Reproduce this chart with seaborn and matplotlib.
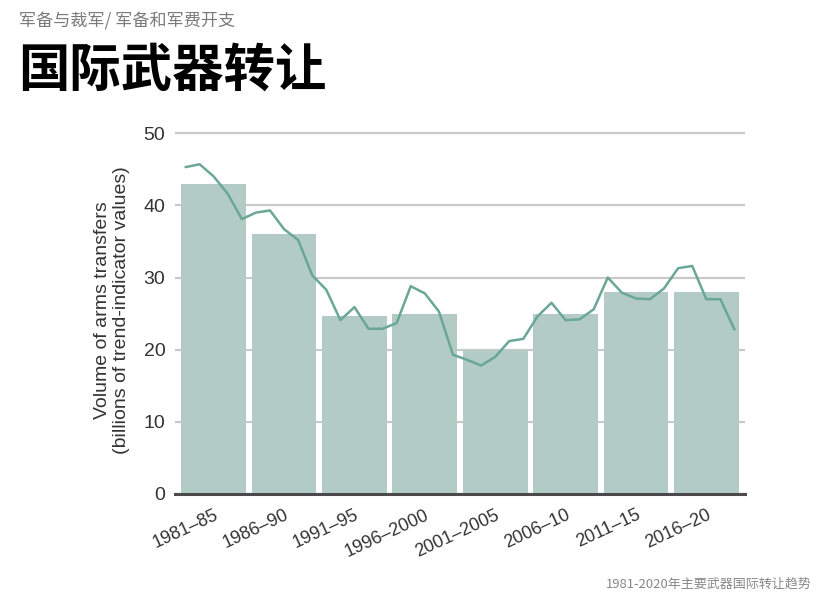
import matplotlib
matplotlib.use("Agg")
import matplotlib.pyplot as plt
import seaborn as sns
import pandas as pd

periods = ["1981–85", "1986–90", "1991–95", "1996–2000", "2001–2005", "2006–10", "2011–15", "2016–20"]
period_totals = [43.0, 36.1, 24.7, 24.9, 19.9, 24.9, 28.0, 28.0]

years = list(range(1981, 2021))
yearly_values = [45.3, 45.7, 44.0, 41.6, 38.1, 39.0, 39.3, 36.7, 35.2, 30.3,
                 28.3, 24.1, 25.9, 22.9, 22.9, 23.7, 28.8, 27.8, 25.3, 19.3,
                 18.6, 17.8, 19.0, 21.2, 21.5, 24.6, 26.5, 24.1, 24.2, 25.6,
                 30.0, 27.9, 27.1, 27.0, 28.5, 31.3, 31.6, 27.0, 27.0, 22.8]

y_ticks = [0, 10, 20, 30, 40, 50]

sns.set_theme(style="white")
plt.rcParams["font.family"] = ["Liberation Sans", "Noto Sans CJK SC", "DejaVu Sans"]

BAR = "#b2ccc5"
LINE = "#6aa796"

fig = plt.figure(figsize=(8.31, 6.02), dpi=100)
ax = fig.add_axes([175 / 831, (602 - 494) / 602, (745 - 175) / 831, (494 - 126) / 602])

bars_df = pd.DataFrame({"period": periods, "total": period_totals})
sns.barplot(data=bars_df, x="period", y="total", color=BAR, saturation=1,
            width=0.92, ax=ax, zorder=2, edgecolor="none")

line_df = pd.DataFrame({"pos": [(y - 1981) / 5 - 0.4 for y in years], "value": yearly_values})
sns.lineplot(data=line_df, x="pos", y="value", color=LINE, linewidth=1.8, ax=ax, zorder=3)

ax.set_xlim(-0.55, 7.55)
ax.set_ylim(0, 51)
ax.set_yticks(y_ticks)
ax.set_yticklabels([str(t) for t in y_ticks])
ax.yaxis.grid(True, color="#c9c9c9", linewidth=1.6, zorder=1)
ax.xaxis.grid(False)
ax.set_axisbelow(True)

for s in ["top", "right", "left"]:
    ax.spines[s].set_visible(False)
ax.spines["bottom"].set_color("#4a4a4a")
ax.spines["bottom"].set_linewidth(2.2)
ax.spines["bottom"].set_zorder(4)

ax.tick_params(axis="y", length=0, pad=7, labelsize=14, labelcolor="#333333")
ax.tick_params(axis="x", length=0, pad=9, labelsize=13, labelcolor="#333333")
ax.set_xticks(range(len(periods)))
ax.set_xticklabels(periods, rotation=25, ha="right", rotation_mode="anchor")

ax.set_xlabel("")
ax.set_ylabel("Volume of arms transfers\n(billions of trend-indicator values)",
              fontsize=14, color="#333333", labelpad=10, linespacing=1.15)

fig.text(19 / 831, 1 - 21 / 602, "军备与裁军/ 军备和军费开支", fontsize=12.3, color="#7a7a7a",
         family=["Noto Sans CJK SC", "DejaVu Sans"], va="center", ha="left")
fig.text(18 / 831, 1 - 70 / 602, "国际武器转让", fontsize=37, fontweight="bold", color="#000000",
         family=["Noto Sans CJK SC", "DejaVu Sans"], va="center", ha="left")
fig.text(812 / 831, 1 - 584 / 602, "1981-2020年主要武器国际转让趋势", fontsize=9.4, color="#888888",
         family=["Noto Sans CJK SC", "DejaVu Sans"], va="center", ha="right")

fig.savefig("out.png", dpi=100)
